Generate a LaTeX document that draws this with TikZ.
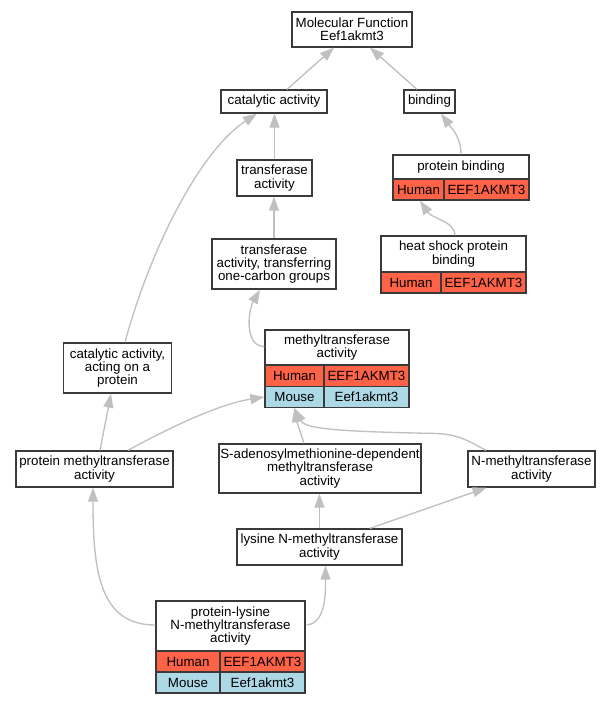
\documentclass[tikz,border=0pt]{standalone}
\usepackage{fontspec}
\setmainfont{Liberation Sans}
\usetikzlibrary{arrows.meta,calc}
\definecolor{human}{HTML}{FF6347}
\definecolor{mouse}{HTML}{ADD8E6}
\definecolor{edgegray}{HTML}{C0C0C0}
\definecolor{boxline}{HTML}{3A3A3A}
\tikzset{
  box/.style={draw=boxline, line width=1pt, fill=white, inner sep=0pt, align=center,
    font=\fontsize{10}{10}\selectfont},
  sz/.style 2 args={minimum width=#1*0.75pt, minimum height=#2*0.75pt},
  humancell/.style={box, fill=human},
  mousecell/.style={box, fill=mouse},
  link/.style={draw=edgegray, line width=1pt, -{Triangle[length=10.5pt,width=7.5pt]}},
}
\begin{document}
\begin{tikzpicture}[x=0.75pt,y=-0.75pt]
\fill[white] (0,0) rectangle (609,704);
\useasboundingbox (0,0) rectangle (609,704);

% simple nodes
\node[box, sz={120}{35}] (mf) at (352,29.5) {Molecular Function\\Eef1akmt3};
\node[box, sz={106}{23}] (cat) at (274,101.5) {catalytic activity};
\node[box, sz={51}{23}] (bind) at (429.5,101.5) {binding};
\node[box, sz={75}{36}] (tr) at (274.5,178) {transferase\\activity};
\node[box, sz={124}{50}] (toc) at (274,264) {transferase\\activity, transferring\\one-carbon groups};
\node[box, sz={108}{50}] (ca) at (117.5,368) {catalytic activity,\\acting on a\\protein};
\node[box, sz={157}{36}] (pm) at (94.5,469) {protein methyltransferase\\activity};
\node[box, sz={202}{49}] (sam) at (320,468.5) {S-adenosylmethionine-dependent\\methyltransferase\\activity};
\node[box, sz={127}{36}] (nm) at (531.5,469) {N-methyltransferase\\activity};
\node[box, sz={165}{36}] (lys) at (319.5,547) {lysine N-methyltransferase\\activity};

% protein binding
\node[box, sz={136}{24}] (pb) at (461,167) {protein binding};
\node[humancell, sz={51}{21}] (pbh) at (418.5,189.5) {Human};
\node[humancell, sz={85}{21}] (pbg) at (486.5,189.5) {EEF1AKMT3};

% heat shock protein binding
\node[box, sz={145}{36}] (hs) at (453.5,254) {heat shock protein\\binding};
\node[humancell, sz={60}{21}] (hsh) at (411,282.5) {Human};
\node[humancell, sz={85}{21}] (hsg) at (483.5,282.5) {EEF1AKMT3};

% methyltransferase activity
\node[box, sz={144}{35}] (mt) at (337,347.5) {methyltransferase\\activity};
\node[humancell, sz={59}{21.5}] (mth) at (294.5,375.75) {Human};
\node[humancell, sz={85}{21.5}] (mtg) at (366.5,375.75) {EEF1AKMT3};
\node[mousecell, sz={59}{21}] (mtm) at (294.5,397) {Mouse};
\node[mousecell, sz={85}{21}] (mtmg) at (366.5,397) {Eef1akmt3};

% protein-lysine N-methyltransferase activity
\node[box, sz={149}{50}] (pl) at (230.5,626) {protein-lysine\\N-methyltransferase\\activity};
\node[humancell, sz={64}{21}] (plh) at (188,661.5) {Human};
\node[humancell, sz={85}{21}] (plg) at (262.5,661.5) {EEF1AKMT3};
\node[mousecell, sz={64}{21}] (plm) at (188,682.5) {Mouse};
\node[mousecell, sz={85}{21}] (plmg) at (262.5,682.5) {Eef1akmt3};

% edges
\draw[link] ($(cat.north)+(13,0)$) -- ($(mf.south)+(-18,0)$);
\draw[link] ($(bind.north)+(-12.5,0)$) -- ($(mf.south)+(18,0)$);
\draw[link] (tr.north) -- (tr.north |- cat.south);
\draw[link] (toc.north) -- (toc.north |- tr.south);
\draw[link] (pb.north) .. controls +(0,-17) and +(11,15) .. ($(bind.south)+(11.5,0)$);
\draw[link] ($(hs.north)+(1.5,0)$) .. controls +(0,-14) and +(12,18) .. ($(pbh.south)+(1.5,0)$);
\draw[link] ($(mt.west)+(0,-1)$) .. controls +(-20,0) and +(-12,21) .. ($(toc.south)+(-14,0)$);
\draw[link] ($(ca.north)+(7.5,0)$) .. controls +(25,-93) and +(-57,37) .. ($(cat.south)+(-17,0)$);
\draw[link] ($(pm.north)+(5.5,0)$) -- ($(ca.south)+(-6.5,0)$);
\draw[link] ($(pm.north)+(33.5,0)$) .. controls +(42,-23) and +(-45,7) .. (mtm.west);
\draw[link] ($(sam.north)+(-16,0)$) .. controls +(-4,-12) and +(2,12) .. (mtm.south);
\draw[link] ($(nm.north)+(-45.5,0)$) .. controls +(-16,-8) and +(30,0) .. ($(nm.north)+(-101.5,-17)$)
   .. controls +(-100,-2) and +(10,20) .. (mtm.south);
\draw[link] (lys.north) -- (lys.north |- sam.south);
\draw[link] ($(lys.north)+(50.5,0)$) -- ($(nm.south)+(-45,0)$);
\draw[link] ($(pl.west)+(0,-1)$) .. controls +(-56,0) and +(0,83) .. ($(pm.south)+(-1.5,0)$);
\draw[link] ($(pl.east)+(1,-1)$) .. controls +(20,-2) and +(0,25) .. ($(lys.south)+(6,0)$);
\end{tikzpicture}
\end{document}
